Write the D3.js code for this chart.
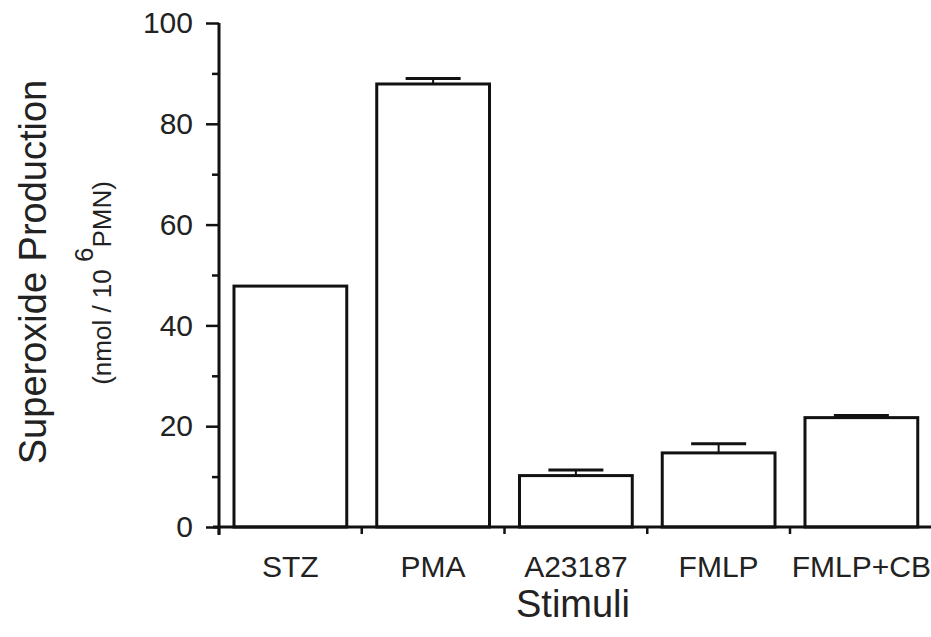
<!DOCTYPE html>
<html>
<head>
<meta charset="utf-8">
<script src="https://cdn.jsdelivr.net/npm/d3@7"></script>
<style>
  html, body { margin: 0; padding: 0; background: #fff; }
  svg { display: block; font-family: "Liberation Sans", Arial, Helvetica, sans-serif; }
</style>
</head>
<body>
<svg id="chart" width="931" height="637"></svg>
<script>
// Superoxide production by stimulus (nmol / 10^6 PMN)
const categories = ["STZ", "PMA", "A23187", "FMLP", "FMLP+CB"];
const values     = [47.8, 87.9, 10.2, 14.7, 21.7];
const errors     = [0, 1.1, 1.1, 1.8, 0.4];
const majorTicks = [0, 20, 40, 60, 80, 100];
const minorTicks = [10, 30, 50, 70, 90];

(function draw() {
  const svg = d3.select("#chart");
  const W = 931, H = 637;
  const x0 = 219, x1 = 932.75, yTop = 23, yBase = 527;

  svg.append("rect").attr("width", W).attr("height", H).attr("fill", "#fff");

  const y = d3.scaleLinear().domain([0, 100]).range([yBase, yTop]);
  const x = d3.scaleBand().domain(categories).range([x0, x1])
    .paddingInner(0.21).paddingOuter(0.105);

  const data = categories.map((c, i) => ({ c, v: values[i], e: errors[i] }));

  // bars
  svg.append("g").selectAll("rect").data(data).join("rect")
    .attr("x", d => x(d.c))
    .attr("y", d => y(d.v))
    .attr("width", x.bandwidth())
    .attr("height", d => y(0) - y(d.v))
    .attr("fill", "#fff")
    .attr("stroke", "#111")
    .attr("stroke-width", 3);

  // error bars (upper whisker only)
  const capW = 55;
  const eb = svg.append("g").attr("stroke", "#111").attr("stroke-width", 3);
  data.filter(d => d.e > 0).forEach(d => {
    const cx = x(d.c) + x.bandwidth() / 2;
    eb.append("line").attr("x1", cx).attr("x2", cx)
      .attr("y1", y(d.v)).attr("y2", y(d.v + d.e)).attr("stroke-width", 2);
    eb.append("line").attr("x1", cx - capW / 2).attr("x2", cx + capW / 2)
      .attr("y1", y(d.v + d.e)).attr("y2", y(d.v + d.e));
  });

  // y axis: major ticks with labels
  const yAxis = svg.append("g").attr("transform", `translate(${x0},0)`)
    .call(d3.axisLeft(y).tickValues(majorTicks).tickSize(13).tickSizeOuter(0).tickPadding(13));
  yAxis.select(".domain").attr("stroke", "#111").attr("stroke-width", 3)
    .attr("d", `M0,${yTop}V${yBase + 8}`);
  yAxis.selectAll(".tick line").attr("stroke", "#111").attr("stroke-width", 2.5);
  yAxis.selectAll(".tick text").attr("font-size", 30).attr("fill", "#222")
    .attr("font-family", "Liberation Sans, Arial, sans-serif");

  // y axis: minor ticks
  const yMinor = svg.append("g").attr("transform", `translate(${x0},0)`)
    .call(d3.axisLeft(y).tickValues(minorTicks).tickSize(7).tickSizeOuter(0).tickFormat(""));
  yMinor.select(".domain").remove();
  yMinor.selectAll(".tick line").attr("stroke", "#111").attr("stroke-width", 2.5);

  // x axis: baseline with ticks at category boundaries
  const xg = svg.append("g");
  xg.append("line").attr("x1", x0 - 6).attr("x2", W).attr("y1", yBase).attr("y2", yBase)
    .attr("stroke", "#111").attr("stroke-width", 3);
  const bounds = categories.map(c => x(c) - x.step() * x.paddingOuter()).concat([x1]);
  xg.selectAll("line.tk").data(bounds).join("line").attr("class", "tk")
    .attr("x1", d => d).attr("x2", d => d)
    .attr("y1", yBase).attr("y2", yBase + 7)
    .attr("stroke", "#111").attr("stroke-width", 2.5);
  xg.selectAll("text").data(categories).join("text")
    .attr("x", d => x(d) + x.bandwidth() / 2)
    .attr("y", 577)
    .attr("text-anchor", "middle")
    .attr("font-size", 30)
    .attr("fill", "#222")
    .text(d => d);

  // axis titles
  svg.append("text").attr("x", 573).attr("y", 617).attr("text-anchor", "middle")
    .attr("font-size", 38).attr("fill", "#222").text("Stimuli");

  svg.append("text")
    .attr("transform", "translate(46,272) rotate(-90)")
    .attr("text-anchor", "middle").attr("font-size", 38).attr("fill", "#222")
    .text("Superoxide Production");

  const sub = svg.append("text")
    .attr("transform", "translate(111,283) rotate(-90)")
    .attr("text-anchor", "middle").attr("font-size", 26).attr("fill", "#222");
  sub.append("tspan").text("(nmol / 10 ");
  sub.append("tspan").attr("dy", -18).text("6");
  sub.append("tspan").attr("dy", 18).text("PMN)");
})();
</script>
</body>
</html>
